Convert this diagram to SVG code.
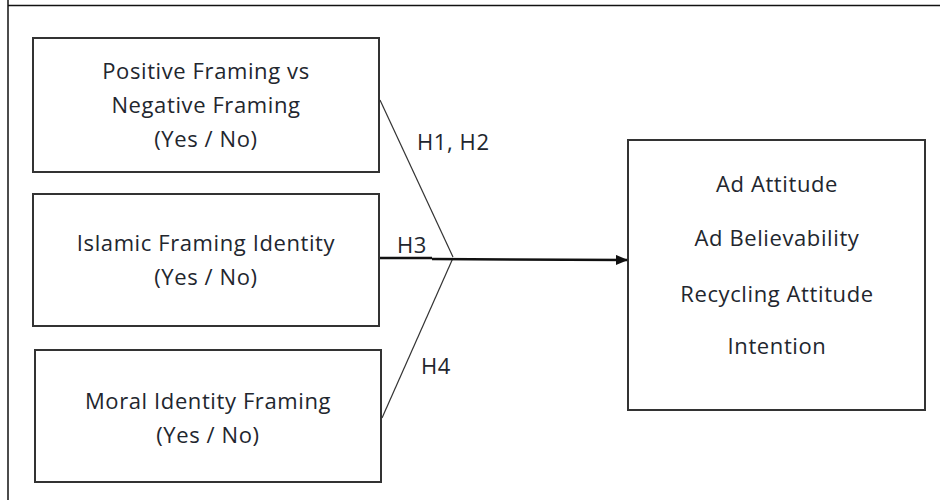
<svg xmlns="http://www.w3.org/2000/svg" width="940" height="500" viewBox="0 0 940 500">
<style>
.box{fill:#fff;stroke:#333;stroke-width:2}
.t{font-family:"Open Sans","Liberation Sans",sans-serif;font-size:22px;letter-spacing:0.6px;fill:#22262e;text-anchor:middle}
.lbl{font-family:"Open Sans","Liberation Sans",sans-serif;font-size:22px;letter-spacing:0.6px;fill:#22262e}
.thin{stroke:#333;stroke-width:1.2;fill:none}
.thick{stroke:#111;stroke-width:2.5;fill:none}
</style>
<defs>
<marker id="ah" markerWidth="12" markerHeight="10" refX="11" refY="5" orient="auto" markerUnits="userSpaceOnUse">
<path d="M0,0 L12,5 L0,10 Z" fill="#111"/>
</marker>
</defs>
<rect width="940" height="500" fill="#fff"/>
<g id="frame">
<line x1="8" y1="0" x2="8" y2="500" stroke="#111" stroke-width="1.5"/>
<line x1="8" y1="5.5" x2="940" y2="5.5" stroke="#111" stroke-width="1.5"/>
</g>
<g id="n1">
<rect class="box" x="33" y="38" width="346" height="134"/>
<text class="t" x="206" y="79">Positive Framing vs</text>
<text class="t" x="206" y="113">Negative Framing</text>
<text class="t" x="206" y="147">(Yes / No)</text>
</g>
<g id="n2">
<rect class="box" x="33" y="194" width="346" height="132"/>
<text class="t" x="206" y="251">Islamic Framing Identity</text>
<text class="t" x="206" y="285">(Yes / No)</text>
</g>
<g id="n3">
<rect class="box" x="35" y="350" width="346" height="132"/>
<text class="t" x="208" y="409">Moral Identity Framing</text>
<text class="t" x="208" y="443">(Yes / No)</text>
</g>
<g id="n4">
<rect class="box" x="628" y="140" width="297" height="270"/>
<text class="t" x="777" y="192">Ad Attitude</text>
<text class="t" x="777" y="246">Ad Believability</text>
<text class="t" x="777" y="302">Recycling Attitude</text>
<text class="t" x="777" y="354">Intention</text>
</g>
<g id="connectors">
<line class="thin" x1="380" y1="100" x2="453" y2="257"/>
<line class="thin" x1="382" y1="418" x2="453" y2="258"/>
<line class="thick" x1="380" y1="258" x2="432" y2="258"/>
<line class="thick" x1="432" y1="259" x2="627" y2="260" marker-end="url(#ah)"/>
<text class="lbl" x="417" y="150">H1, H2</text>
<text class="lbl" x="397" y="253">H3</text>
<text class="lbl" x="421" y="374">H4</text>
</g>
</svg>
